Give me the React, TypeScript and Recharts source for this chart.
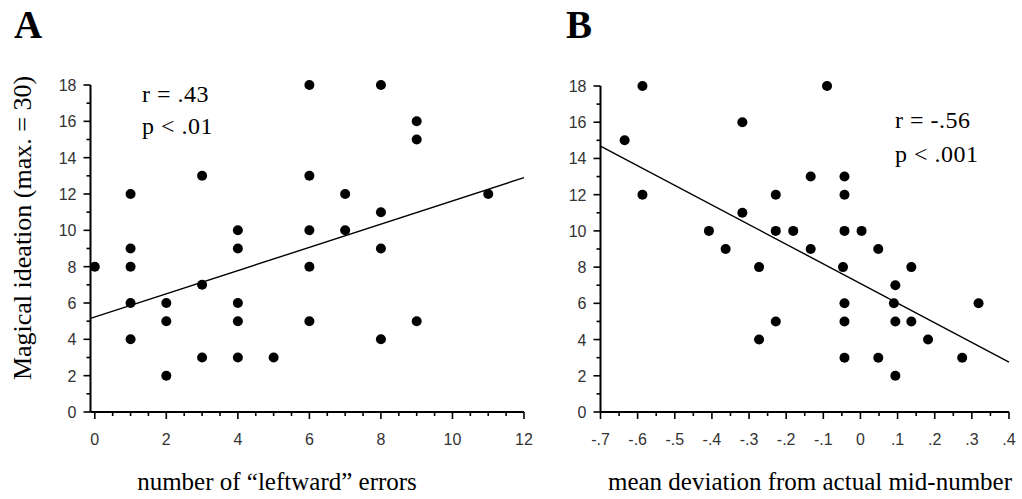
import React from 'react'
import { ScatterChart, Scatter, XAxis, YAxis, ReferenceLine } from 'recharts'

// ----- Panel A: leftward errors vs magical ideation -----
const errosA = [0, 1, 1, 1, 1, 1, 2, 2, 2, 3, 3, 3, 4, 4, 4, 4, 4, 5, 6, 6, 6, 6, 6, 7, 7, 8, 8, 8, 8, 9, 9, 9, 11]
const ideacaoA = [8, 12, 9, 8, 6, 4, 6, 5, 2, 13, 7, 3, 10, 9, 6, 5, 3, 3, 18, 13, 10, 8, 5, 12, 10, 18, 11, 9, 4, 16, 15, 5, 12]
const retaA_x = [-0.12, 12]
const retaA_y = [5.15, 12.9]
const ticksXA = [0, 0.5, 1, 1.5, 2, 2.5, 3, 3.5, 4, 4.5, 5, 5.5, 6, 6.5, 7, 7.5, 8, 8.5, 9, 9.5, 10, 10.5, 11, 11.5, 12]
const majorXA = [0, 2, 4, 6, 8, 10, 12]

// ----- Panel B: mean deviation vs magical ideation -----
const desvioB = [-0.635, -0.587, -0.587, -0.408, -0.363, -0.318, -0.318, -0.273, -0.273, -0.228, -0.228, -0.228,
  -0.181, -0.134, -0.134, -0.09, -0.043, -0.043, -0.043, -0.047, -0.043, -0.043, -0.043, 0.003, 0.048, 0.048,
  0.094, 0.09, 0.094, 0.094, 0.137, 0.137, 0.182, 0.274, 0.318]
const ideacaoB = [15, 18, 12, 10, 9, 16, 11, 8, 4, 12, 10, 5, 10, 13, 9, 18, 13, 12, 10, 8, 6, 5, 3, 10, 9, 3, 7, 6, 5, 2, 8, 5, 4, 3, 6]
const retaB_x = [-0.7, 0.4]
const retaB_y = [14.68, 2.76]
const ticksXB = [-0.7, -0.65, -0.6, -0.55, -0.5, -0.45, -0.4, -0.35, -0.3, -0.25, -0.2, -0.15, -0.1, -0.05, 0, 0.05, 0.1, 0.15, 0.2, 0.25, 0.3, 0.35, 0.4]
const majorXB = [-0.7, -0.6, -0.5, -0.4, -0.3, -0.2, -0.1, 0, 0.1, 0.2, 0.3, 0.4]

const ticksY = [0, 1, 2, 3, 4, 5, 6, 7, 8, 9, 10, 11, 12, 13, 14, 15, 16, 17, 18]
const majorY = [0, 2, 4, 6, 8, 10, 12, 14, 16, 18]

const dadosA = errosA.map((x, i) => ({ x, y: ideacaoA[i] }))
const dadosB = desvioB.map((x, i) => ({ x, y: ideacaoB[i] }))

const fonteTick = { fontFamily: 'Liberation Sans, Arial, sans-serif', fontSize: 16, fill: '#333' }
const fonteSerif = 'Liberation Serif, Times New Roman, serif'

const ehMaior = (lista: number[], v: number) => lista.some(m => Math.abs(m - v) < 1e-6)
const fmtDecimal = (v: number) => {
  if (Math.abs(v) < 1e-6) return '0'
  return (v < 0 ? '-' : '') + '.' + Math.round(Math.abs(v) * 10)
}

function TickX(props: any) {
  const { x, y, payload, majors, fmt } = props
  const maior = ehMaior(majors, payload.value)
  return (
    <g>
      <line x1={x} x2={x} y1={y} y2={y + (maior ? 7 : 4)} stroke="#000" strokeWidth={1.6} />
      {maior && <text x={x} y={y + 33} textAnchor="middle" style={fonteTick}>{fmt(payload.value)}</text>}
    </g>
  )
}

function TickY(props: any) {
  const { x, y, payload } = props
  const maior = ehMaior(majorY, payload.value)
  return (
    <g>
      <line x1={x} x2={x - (maior ? 7 : 4)} y1={y} y2={y} stroke="#000" strokeWidth={1.6} />
      {maior && <text x={x - 14} y={y + 6} textAnchor="end" style={fonteTick}>{payload.value}</text>}
    </g>
  )
}

const Ponto = (p: any) => <circle cx={p.cx} cy={p.cy} r={5} fill="#000" />

function Painel({ dados, dominioX, ticksX, majorsX, fmt, retaX, retaY, margem, largura }: any) {
  return (
    <ScatterChart width={largura} height={499} margin={margem}>
      <XAxis
        type="number" dataKey="x" domain={dominioX} ticks={ticksX} interval={0}
        axisLine={{ stroke: '#000', strokeWidth: 2 }} tickLine={false} tickSize={0} tickMargin={0} height={40}
        tick={<TickX majors={majorsX} fmt={fmt} />} allowDataOverflow
      />
      <YAxis
        type="number" dataKey="y" domain={[0, 18]} ticks={ticksY} interval={0}
        axisLine={{ stroke: '#000', strokeWidth: 2 }} tickLine={false} tickSize={0} tickMargin={0} width={40}
        tick={<TickY />}
      />
      <ReferenceLine
        segment={[{ x: retaX[0], y: retaY[0] }, { x: retaX[1], y: retaY[1] }]}
        stroke="#000" strokeWidth={1.4} ifOverflow="visible"
      />
      <Scatter data={dados} shape={Ponto} isAnimationActive={false} />
    </ScatterChart>
  )
}

export default function App() {
  return (
    <div style={{ position: 'fixed', left: 0, top: 0, width: 1022, height: 499, background: '#fff' }}>
      <div style={{ position: 'absolute', left: 0, top: 0 }}>
        <Painel
          dados={dadosA} dominioX={[-0.12, 12]} ticksX={ticksXA} majorsX={majorXA} fmt={(v: number) => String(v)}
          retaX={retaA_x} retaY={retaA_y} largura={540}
          margem={{ top: 85, right: 16, bottom: 47, left: 50.5 }}
        />
      </div>
      <div style={{ position: 'absolute', left: 540, top: 0 }}>
        <Painel
          dados={dadosB} dominioX={[-0.7, 0.4]} ticksX={ticksXB} majorsX={majorXB} fmt={fmtDecimal}
          retaX={retaB_x} retaY={retaB_y} largura={482}
          margem={{ top: 86, right: 13, bottom: 47, left: 20.5 }}
        />
      </div>
      <svg width={1022} height={499} style={{ position: 'absolute', left: 0, top: 0, pointerEvents: 'none' }}>
        <g style={{ fontFamily: fonteSerif, fill: '#000' }}>
          <text x={14} y={38} fontSize={39} fontWeight="bold">A</text>
          <text x={566} y={38} fontSize={39} fontWeight="bold">B</text>
          <text x={142} y={102} fontSize={24} letterSpacing={0.5}>r = .43</text>
          <text x={142} y={134} fontSize={24} letterSpacing={0.5}>p &lt; .01</text>
          <text x={895} y={128} fontSize={24} letterSpacing={0.5}>r = -.56</text>
          <text x={895} y={162} fontSize={24} letterSpacing={0.5}>p &lt; .001</text>
          <text x={277} y={490} fontSize={25} textAnchor="middle">number of “leftward” errors</text>
          <text x={810} y={490} fontSize={25} textAnchor="middle">mean deviation from actual mid-number</text>
          <text transform="translate(31,228) rotate(-90)" fontSize={26} textAnchor="middle">Magical ideation (max. = 30)</text>
        </g>
      </svg>
    </div>
  )
}
